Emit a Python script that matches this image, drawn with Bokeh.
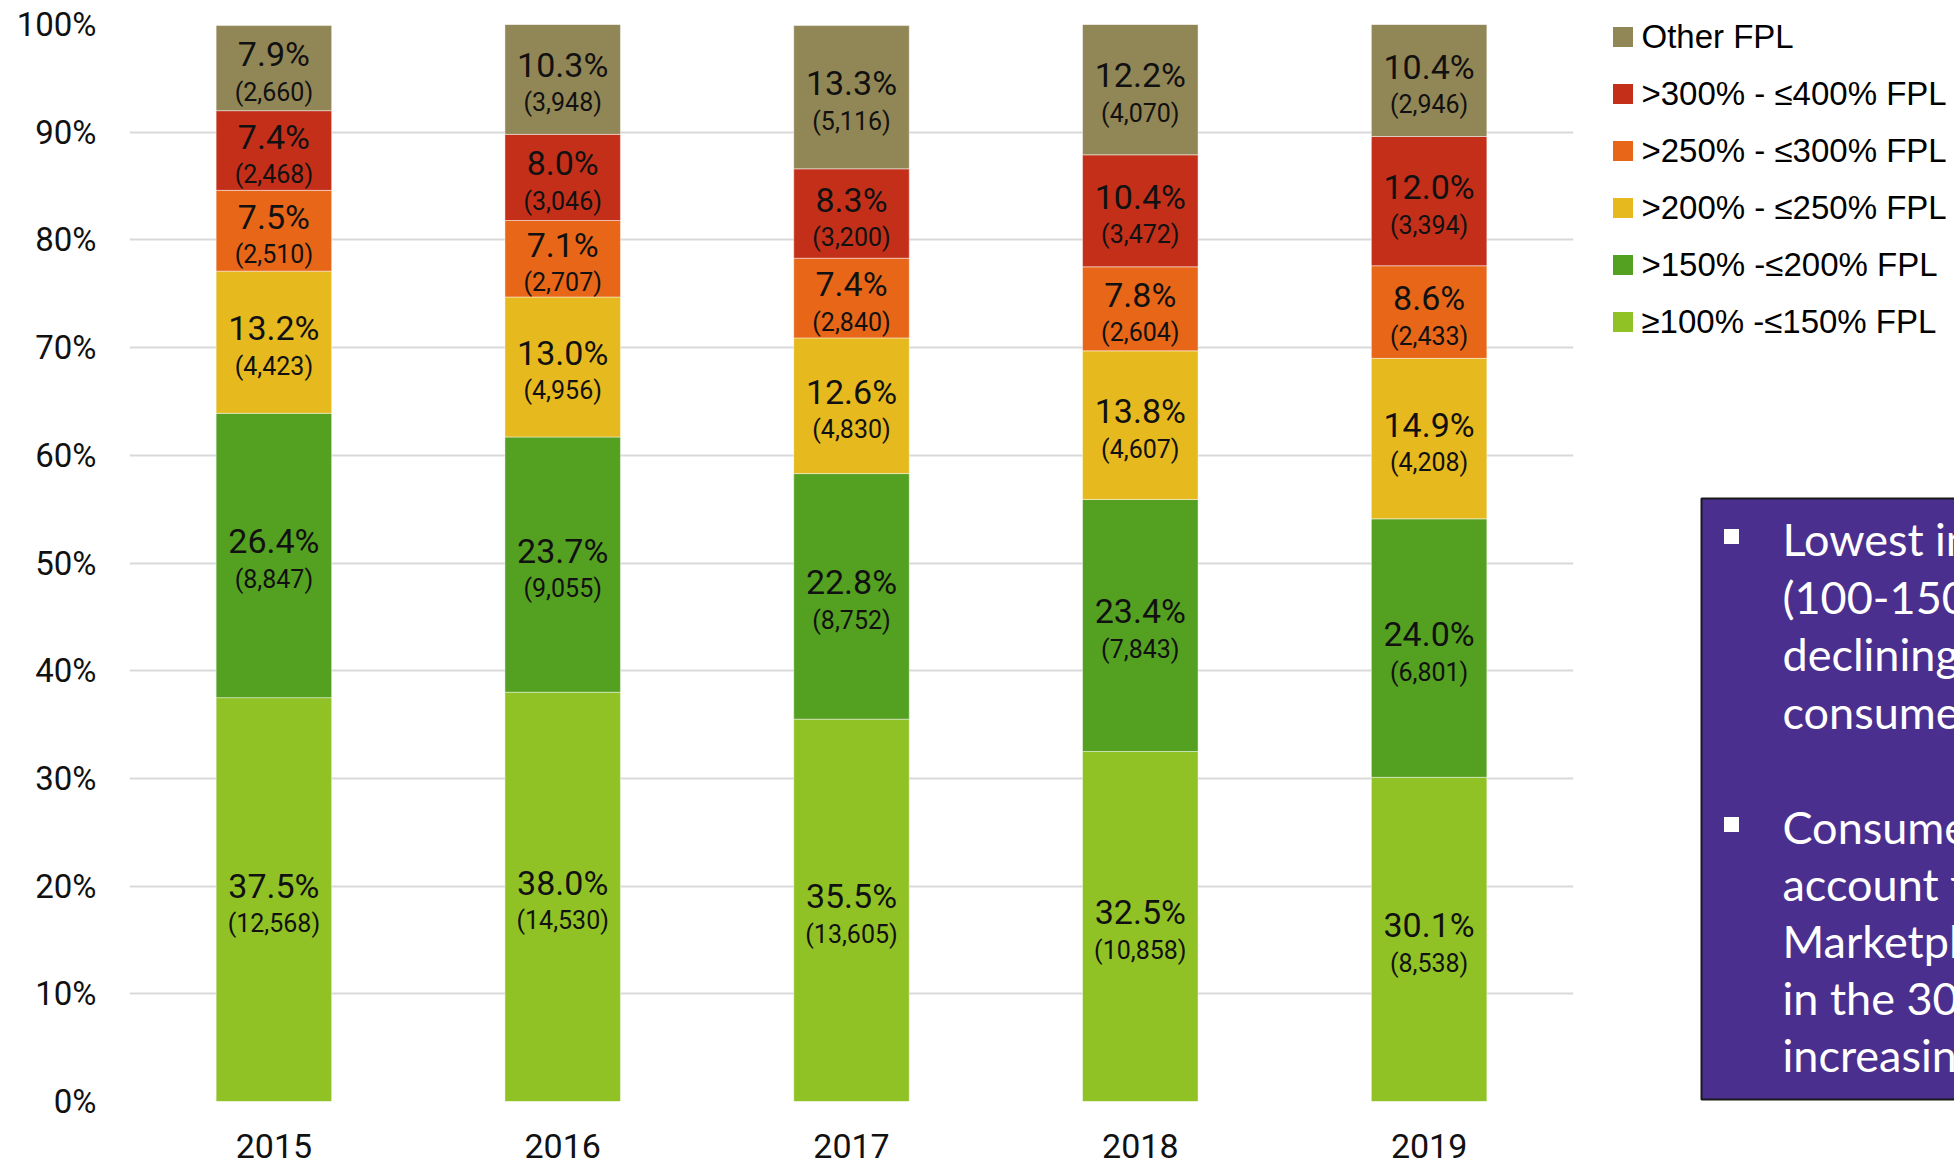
from bokeh.plotting import figure
from bokeh.layouts import row
from bokeh.models import (FactorRange, FixedTicker, PrintfTickFormatter, Legend, LegendItem,
                          ColumnDataSource, Range1d)
from bokeh.core.properties import value
from bokeh.embed import file_html
from bokeh.resources import INLINE

# ---------------- data ----------------
years = ["2015", "2016", "2017", "2018", "2019"]

series_names = ["≥100% -≤150% FPL", ">150% -≤200% FPL", ">200% - ≤250% FPL",
                ">250% - ≤300% FPL", ">300% - ≤400% FPL", "Other FPL"]

pct_100_150 = [37.5, 38.0, 35.5, 32.5, 30.1]
pct_150_200 = [26.4, 23.7, 22.8, 23.4, 24.0]
pct_200_250 = [13.2, 13.0, 12.6, 13.8, 14.9]
pct_250_300 = [7.5, 7.1, 7.4, 7.8, 8.6]
pct_300_400 = [7.4, 8.0, 8.3, 10.4, 12.0]
pct_other = [7.9, 10.3, 13.3, 12.2, 10.4]

cnt_100_150 = [12568, 14530, 13605, 10858, 8538]
cnt_150_200 = [8847, 9055, 8752, 7843, 6801]
cnt_200_250 = [4423, 4956, 4830, 4607, 4208]
cnt_250_300 = [2510, 2707, 2840, 2604, 2433]
cnt_300_400 = [2468, 3046, 3200, 3472, 3394]
cnt_other = [2660, 3948, 5116, 4070, 2946]

y_ticks = [0, 10, 20, 30, 40, 50, 60, 70, 80, 90, 100]

callout_lines = ["Lowest in", "(100-150", "declining", "consume",
                 "Consume", "account f", "Marketpl", "in the 30", "increasin"]

colors = ["#90C226", "#54A021", "#E6B91E", "#E76618", "#C42F1A", "#918655"]

pct_series = [pct_100_150, pct_150_200, pct_200_250, pct_250_300, pct_300_400, pct_other]
cnt_series = [cnt_100_150, cnt_150_200, cnt_200_250, cnt_250_300, cnt_300_400, cnt_other]
keys = ["s%d" % i for i in range(len(series_names))]

data = {"year": years}
for k, s in zip(keys, pct_series):
    data[k] = s
source = ColumnDataSource(data)

# label positions (segment mid-points)
lx, ly, lpct, lcnt = [], [], [], []
for j, yr in enumerate(years):
    base = 0.0
    for s_p, s_c in zip(pct_series, cnt_series):
        v = s_p[j]
        lx.append(yr)
        ly.append(base + v / 2.0)
        lpct.append("%.1f%%" % v)
        lcnt.append("({:,})".format(s_c[j]))
        base += v
lsrc = ColumnDataSource(dict(x=lx, y=ly, pct=lpct, cnt=lcnt))

# ---------------- main chart ----------------
p = figure(x_range=FactorRange(*years, range_padding=0), y_range=(0, 100),
           width=1600, height=1166, output_backend="svg", toolbar_location=None,
           min_border_left=129, min_border_right=27, min_border_top=24, min_border_bottom=65)
p.outline_line_color = None

renderers = p.vbar_stack(keys, x="year", width=0.4, color=colors, source=source,
                         line_color="white", line_width=1, line_alpha=0.45)

p.text(x="x", y="y", text="pct", source=lsrc, text_align="center", text_baseline="middle",
       y_offset=-14, text_font=value("Roboto"), text_font_size="34px", text_color="#111111")
p.text(x="x", y="y", text="cnt", source=lsrc, text_align="center", text_baseline="middle",
       y_offset=24, text_font=value("Roboto"), text_font_size="25px", text_color="#111111")

p.yaxis.ticker = FixedTicker(ticks=y_ticks)
p.yaxis.formatter = PrintfTickFormatter(format="%d%%")
p.yaxis.axis_line_color = None
p.yaxis.major_tick_line_color = None
p.yaxis.major_tick_out = 0
p.yaxis.minor_tick_line_color = None
p.yaxis.major_label_standoff = 33
p.yaxis.major_label_text_font = "Roboto"
p.yaxis.major_label_text_font_size = "33px"
p.yaxis.major_label_text_color = "#111111"

p.xaxis.axis_line_color = None
p.xaxis.major_tick_line_color = None
p.xaxis.major_tick_out = 0
p.xaxis.major_label_standoff = 32
p.xaxis.major_label_text_font = "Roboto"
p.xaxis.major_label_text_font_size = "34px"
p.xaxis.major_label_text_color = "#111111"

p.xgrid.grid_line_color = None
p.ygrid.grid_line_color = "#d9d9d9"
p.ygrid.grid_line_width = 2

# ---------------- side panel: legend + callout ----------------
# The side figure's frame is aligned with the main frame (page y 24..1101),
# so its y range is chosen so that data y = 1166 - page y.
side_w, side_h = 354, 1166
q = figure(x_range=Range1d(0, side_w), y_range=Range1d(side_h - 1101, side_h - 24),
           width=side_w, height=side_h,
           output_backend="svg", toolbar_location=None, min_border=0,
           x_axis_location=None, y_axis_location=None)
q.outline_line_color = None
q.xgrid.grid_line_color = None
q.ygrid.grid_line_color = None

# legend swatches (zero-size renderers, used only for the legend)
swatches = [q.vbar(x=[0], top=[0], bottom=[0], width=0, fill_color=c, line_color=None)
            for c in colors]
items = [LegendItem(label=n, renderers=[r]) for n, r in zip(series_names, swatches)][::-1]
legend = Legend(items=items, location=(9.5, 751), glyph_width=25, glyph_height=25,
                label_height=57, spacing=0, padding=0, margin=0, label_standoff=7,
                label_text_font="Liberation Sans", label_text_font_size="33px",
                label_text_color="#000000", border_line_color=None, background_fill_alpha=0)
q.add_layout(legend)

# callout box (page coords converted: x - 1600, 1166 - y)
q.quad(left=[101], right=[400], bottom=[67], top=[668], fill_color="#4B2F8F",
       line_color="#1a1a1a", line_width=2)
line_centers = [538, 596, 653, 711, 826, 883, 940, 997, 1054]
q.text(x=[182] * len(callout_lines), y=[side_h - c for c in line_centers], text=callout_lines,
       text_font=value("Lato"), text_font_size="45px", text_color="white",
       text_baseline="middle", text_align="left")
q.scatter(x=[131, 131], y=[side_h - 536, side_h - 824], marker="square", size=15,
          fill_color="white", line_color=None)

layout = row(p, q)
open("out.html", "w").write(file_html(layout, INLINE))
